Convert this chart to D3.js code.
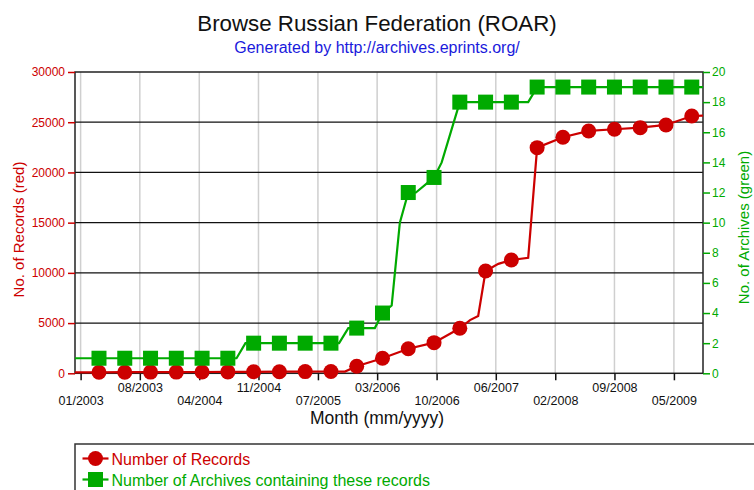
<!DOCTYPE html>
<html>
<head>
<meta charset="utf-8">
<script src="https://cdn.jsdelivr.net/npm/d3@7"></script>
<style>
  body { margin: 0; background: #fff; }
  svg { display: block; font-family: "Liberation Sans", Arial, sans-serif; }
</style>
</head>
<body>
<svg id="chart"></svg>
<script>
// dates where a marker is drawn
const markerDates = ["2003-03-14","2003-06-23","2003-10-02","2004-01-11","2004-04-21","2004-07-31",
  "2004-11-09","2005-02-18","2005-05-30","2005-09-08","2005-12-18","2006-03-29","2006-07-08",
  "2006-10-17","2007-01-26","2007-05-07","2007-08-16","2007-11-25","2008-03-05","2008-06-14",
  "2008-09-23","2009-01-02","2009-04-13","2009-07-23"];
const recordValues = [100, 110, 120, 120, 130, 140, 150, 160, 170, 180, 700, 1500, 2450, 3050,
  4480, 10190, 11280, 22470, 23500, 24130, 24300, 24460, 24730, 25620];
const archiveValues = [1, 1, 1, 1, 1, 1, 2, 2, 2, 2, 3, 4, 12, 13, 18, 18, 18, 19, 19, 19, 19, 19, 19, 19];

// extra line vertices between markers (no marker drawn)
const recordBendDates = ["2002-12-10","2005-11-02","2007-03-07","2007-04-08","2007-06-26","2007-10-21","2009-09-05"];
const recordBendValues = [90, 170, 5300, 5700, 10900, 11500, 25650];
const archiveBendDates = ["2002-12-10","2004-09-03","2004-10-08","2005-10-10","2005-11-15","2006-02-27",
  "2006-05-04","2006-06-05","2006-08-07","2006-11-16","2007-10-21","2009-09-05"];
const archiveBendValues = [1, 1, 2, 2, 3, 3, 4.5, 10, 12, 14, 18, 19];

const xDomain = ["2002-12-10", "2009-09-05"];
const tickDates = ["2003-01-01","2003-08-21","2004-04-10","2004-11-28","2005-07-19","2006-03-08",
  "2006-10-27","2007-06-16","2008-02-04","2008-09-23","2009-05-14"];
const tickLabels = ["01/2003","08/2003","04/2004","11/2004","07/2005","03/2006",
  "10/2006","06/2007","02/2008","09/2008","05/2009"];
const recordTicks = [0, 5000, 10000, 15000, 20000, 25000, 30000];
const archiveTicks = [0, 2, 4, 6, 8, 10, 12, 14, 16, 18, 20];

const RED = "#cc0000";
const GREEN = "#00aa00";

class DualAxisChart {
  constructor(_config) {
    this.config = {
      parentElement: _config.parentElement,
      containerWidth: 754,
      containerHeight: 490,
      margin: { top: 72, right: 51, bottom: 116.7, left: 75 }
    };
    this.initVis();
  }

  initVis() {
    let vis = this;
    const parse = d3.timeParse("%Y-%m-%d");

    vis.width = vis.config.containerWidth - vis.config.margin.left - vis.config.margin.right;
    vis.height = vis.config.containerHeight - vis.config.margin.top - vis.config.margin.bottom;

    vis.svg = d3.select(vis.config.parentElement)
      .attr("width", vis.config.containerWidth)
      .attr("height", vis.config.containerHeight);

    vis.chart = vis.svg.append("g")
      .attr("transform", `translate(${vis.config.margin.left},${vis.config.margin.top})`);

    // Scales
    vis.xScale = d3.scaleTime().domain(xDomain.map(parse)).range([0, vis.width]);
    vis.yRecords = d3.scaleLinear().domain([0, 30000]).range([vis.height, 0]);
    vis.yArchives = d3.scaleLinear().domain([0, 20]).range([vis.height, 0]);

    // Vertical grey grid at each month tick
    vis.chart.append("g").selectAll("line")
      .data(tickDates.map(parse))
      .join("line")
      .attr("x1", d => vis.xScale(d)).attr("x2", d => vis.xScale(d))
      .attr("y1", 0).attr("y2", vis.height)
      .attr("stroke", "#cfcfcf").attr("stroke-width", 1.5);

    // Horizontal black grid
    vis.chart.append("g").selectAll("line")
      .data(recordTicks.slice(1, -1))
      .join("line")
      .attr("x1", 0).attr("x2", vis.width)
      .attr("y1", d => vis.yRecords(d)).attr("y2", d => vis.yRecords(d))
      .attr("stroke", "#111").attr("stroke-width", 1.2);

    // Frame
    vis.chart.append("rect")
      .attr("width", vis.width).attr("height", vis.height)
      .attr("fill", "none").attr("stroke", "#222").attr("stroke-width", 1.5);

    // Axes
    const leftAxis = vis.chart.append("g")
      .call(d3.axisLeft(vis.yRecords).tickValues(recordTicks).tickSize(7).tickPadding(3)
        .tickFormat(d3.format("d")));
    leftAxis.select(".domain").remove();
    leftAxis.selectAll("line").attr("stroke", RED).attr("stroke-width", 1.5);
    leftAxis.selectAll("text").attr("fill", RED).style("font-size", "12px");

    const rightAxis = vis.chart.append("g")
      .attr("transform", `translate(${vis.width},0)`)
      .call(d3.axisRight(vis.yArchives).tickValues(archiveTicks).tickSize(7).tickPadding(2));
    rightAxis.select(".domain").remove();
    rightAxis.selectAll("line").attr("stroke", GREEN).attr("stroke-width", 1.5);
    rightAxis.selectAll("text").attr("fill", GREEN).style("font-size", "12px");

    const bottomAxis = vis.chart.append("g")
      .attr("transform", `translate(0,${vis.height})`)
      .call(d3.axisBottom(vis.xScale).tickValues(tickDates.map(parse)).tickSize(7)
        .tickFormat((d, i) => tickLabels[i]));
    bottomAxis.select(".domain").remove();
    bottomAxis.selectAll("line").attr("stroke", "#111").attr("stroke-width", 1.5);
    bottomAxis.selectAll("text")
      .attr("fill", "#111").style("font-size", "12.5px")
      .attr("y", (d, i) => i % 2 ? 9.5 : 23);

    // Titles
    vis.svg.append("text")
      .attr("x", 377).attr("y", 31)
      .attr("text-anchor", "middle")
      .style("font-size", "22.3px").attr("fill", "#111")
      .text("Browse Russian Federation (ROAR)");

    vis.svg.append("text")
      .attr("x", 377).attr("y", 53)
      .attr("text-anchor", "middle")
      .style("font-size", "16px").attr("fill", "#1a1adc")
      .text("Generated by http://archives.eprints.org/");

    vis.svg.append("text")
      .attr("x", 377).attr("y", 424)
      .attr("text-anchor", "middle")
      .style("font-size", "17.5px").attr("fill", "#111")
      .text("Month (mm/yyyy)");

    vis.svg.append("text")
      .attr("transform", "translate(23.5,229.5) rotate(-90)")
      .attr("text-anchor", "middle")
      .style("font-size", "15px").attr("fill", RED)
      .text("No. of Records (red)");

    vis.svg.append("text")
      .attr("transform", "translate(748.5,227.5) rotate(-90)")
      .attr("text-anchor", "middle")
      .style("font-size", "15px").attr("fill", GREEN)
      .text("No. of Archives (green)");

    vis.updateVis();
  }

  updateVis() {
    let vis = this;
    const parse = d3.timeParse("%Y-%m-%d");

    vis.recordMarkers = markerDates.map((d, i) => ({ date: parse(d), value: recordValues[i] }));
    vis.archiveMarkers = markerDates.map((d, i) => ({ date: parse(d), value: archiveValues[i] }));

    // line = markers + bends, sorted by date
    vis.recordLine = vis.recordMarkers
      .concat(recordBendDates.map((d, i) => ({ date: parse(d), value: recordBendValues[i] })))
      .sort((a, b) => a.date - b.date);
    vis.archiveLine = vis.archiveMarkers
      .concat(archiveBendDates.map((d, i) => ({ date: parse(d), value: archiveBendValues[i] })))
      .sort((a, b) => a.date - b.date);

    vis.renderVis();
  }

  renderVis() {
    let vis = this;

    const recLine = d3.line().x(d => vis.xScale(d.date)).y(d => vis.yRecords(d.value));
    const arcLine = d3.line().x(d => vis.xScale(d.date)).y(d => vis.yArchives(d.value));

    vis.chart.append("path")
      .datum(vis.recordLine)
      .attr("d", recLine)
      .attr("fill", "none").attr("stroke", RED).attr("stroke-width", 2.2);

    vis.chart.selectAll(".rec-point")
      .data(vis.recordMarkers)
      .join("circle")
      .attr("class", "rec-point")
      .attr("cx", d => vis.xScale(d.date))
      .attr("cy", d => vis.yRecords(d.value))
      .attr("r", 7.5)
      .attr("fill", RED);

    vis.chart.append("path")
      .datum(vis.archiveLine)
      .attr("d", arcLine)
      .attr("fill", "none").attr("stroke", GREEN).attr("stroke-width", 2.2);

    vis.chart.selectAll(".arc-point")
      .data(vis.archiveMarkers)
      .join("rect")
      .attr("class", "arc-point")
      .attr("x", d => vis.xScale(d.date) - 7.5)
      .attr("y", d => vis.yArchives(d.value) - 7.5)
      .attr("width", 15).attr("height", 15)
      .attr("fill", GREEN);

    // Legend
    const legend = vis.svg.append("g");
    legend.append("rect")
      .attr("x", 75).attr("y", 444).attr("width", 720).attr("height", 80)
      .attr("fill", "none").attr("stroke", "#333").attr("stroke-width", 1.5);

    const items = [
      { label: "Number of Records", color: RED, shape: "circle" },
      { label: "Number of Archives containing these records", color: GREEN, shape: "square" }
    ];
    const rows = legend.selectAll(".legend-row")
      .data(items)
      .join("g")
      .attr("class", "legend-row")
      .attr("transform", (d, i) => `translate(0,${458.5 + i * 21})`);

    rows.append("line")
      .attr("x1", 82.5).attr("x2", 108.5)
      .attr("stroke", d => d.color).attr("stroke-width", 2.2);
    rows.filter(d => d.shape === "circle").append("circle")
      .attr("cx", 95.5).attr("r", 7.5).attr("fill", d => d.color);
    rows.filter(d => d.shape === "square").append("rect")
      .attr("x", 88).attr("y", -7.5).attr("width", 15).attr("height", 15).attr("fill", d => d.color);
    rows.append("text")
      .attr("x", 111.5).attr("y", 6)
      .style("font-size", "16px")
      .attr("fill", d => d.color)
      .text(d => d.label);
  }
}

new DualAxisChart({ parentElement: "#chart" });
</script>
</body>
</html>
